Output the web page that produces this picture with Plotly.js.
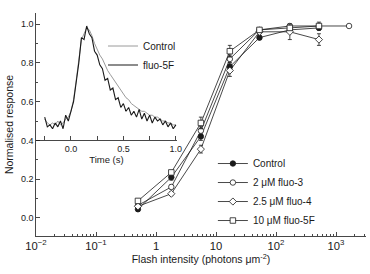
<!DOCTYPE html>
<html>
<head>
<meta charset="utf-8">
<script src="https://cdn.plot.ly/plotly-3.0.1.min.js"></script>
<style>html,body{margin:0;padding:0;background:#fff;}#chart{width:370px;height:274px;}</style>
</head>
<body>
<div id="chart"></div>
<script>
// Main panel: flash intensity (photons um^-2)
var intensity = [0.5, 1.8, 5.6, 17, 53, 170, 520, 1650];
var controlY   = [0.045, 0.21, 0.42, 0.78, 0.93, 0.97, 0.98];
var controlErr = [0.01, 0.015, 0.02, 0.02, 0.01, 0.01, 0.01];
var fluo3Y     = [0.065, 0.16, 0.45, 0.82, 0.97, 0.99, 0.99, 0.99];
var fluo3Err   = [0.01, 0.01, 0.02, 0.02, 0.01, 0.01, 0.01, 0.0];
var fluo4Y     = [0.06, 0.125, 0.355, 0.76, 0.96, 0.96, 0.92];
var fluo4Err   = [0.01, 0.01, 0.02, 0.03, 0.01, 0.04, 0.03];
var fluo5Y     = [0.088, 0.235, 0.49, 0.86, 0.97, 0.98, 0.99];
var fluo5Err   = [0.01, 0.01, 0.03, 0.03, 0.01, 0.01, 0.02];
var seriesNames = ['Control', '2 \u03bcM fluo-3', '2.5 \u03bcM fluo-4', '10 \u03bcM fluo-5F'];

// Inset: time course (s)
var timeS = [-0.250,-0.225,-0.200,-0.175,-0.150,-0.125,-0.100,-0.075,-0.050,-0.025,
  0.000,0.025,0.050,0.075,0.100,0.125,0.150,0.175,0.200,0.225,0.250,0.275,0.300,0.325,0.350,
  0.375,0.400,0.425,0.450,0.475,0.500,0.525,0.550,0.575,0.600,0.625,0.650,0.675,0.700,0.725,
  0.750,0.775,0.800,0.825,0.850,0.875,0.900,0.925,0.950,0.975,1.000];
var insetControl = [0.51,0.49,0.48,0.49,0.48,0.50,0.48,0.49,0.51,0.52,
  0.55,0.61,0.71,0.81,0.92,0.95,0.98,0.97,0.94,0.90,0.87,0.84,0.82,0.79,0.76,
  0.74,0.72,0.70,0.68,0.66,0.64,0.62,0.61,0.59,0.58,0.57,0.56,0.55,0.55,0.54,
  0.53,0.53,0.52,0.52,0.51,0.50,0.50,0.49,0.49,0.48,0.48];
var insetFluo5F = [0.52,0.47,0.48,0.46,0.49,0.47,0.50,0.46,0.53,0.50,
  0.55,0.60,0.70,0.80,0.93,0.92,0.99,0.95,0.93,0.86,0.84,0.79,0.77,0.71,0.72,
  0.66,0.67,0.61,0.62,0.57,0.59,0.55,0.57,0.53,0.55,0.52,0.56,0.51,0.54,0.50,
  0.53,0.49,0.52,0.50,0.51,0.48,0.50,0.47,0.49,0.46,0.48];
var insetNames = ['Control', 'fluo-5F'];

var ink = '#1a1a1a';
function mainTrace(name, ys, errs, symbol, fill) {
  return {
    type: 'scatter', mode: 'lines+markers', name: name, legend: 'legend',
    x: intensity.slice(0, ys.length), y: ys,
    error_y: {type: 'data', array: errs, visible: true, color: ink, thickness: 0.8, width: 2},
    line: {color: ink, width: 0.8},
    marker: {symbol: symbol, size: 5.5, color: fill, line: {color: ink, width: 0.8}},
    xaxis: 'x', yaxis: 'y'
  };
}
var data = [
  {type: 'scatter', mode: 'lines', name: insetNames[0], legend: 'legend2', x: timeS, y: insetControl,
   line: {color: '#9a9a9a', width: 1}, xaxis: 'x2', yaxis: 'y'},
  {type: 'scatter', mode: 'lines', name: insetNames[1], legend: 'legend2', x: timeS, y: insetFluo5F,
   line: {color: ink, width: 1.1}, xaxis: 'x2', yaxis: 'y'},
  mainTrace(seriesNames[0], controlY, controlErr, 'circle', ink),
  mainTrace(seriesNames[1], fluo3Y, fluo3Err, 'circle', '#ffffff'),
  mainTrace(seriesNames[2], fluo4Y, fluo4Err, 'diamond', '#ffffff'),
  mainTrace(seriesNames[3], fluo5Y, fluo5Err, 'square', '#ffffff')
];

var layout = {
  width: 370, height: 274,
  margin: {l: 36, r: 4, t: 13, b: 38},
  paper_bgcolor: '#ffffff', plot_bgcolor: 'rgba(0,0,0,0)',
  font: {family: 'Liberation Sans, Arial, sans-serif', size: 9, color: ink},
  showlegend: true,
  xaxis: {
    type: 'log', range: [-2, 3.5], dtick: 1, exponentformat: 'power',
    ticks: 'inside', ticklen: 4, tickwidth: 0.8, tickcolor: ink,
    showline: true, linecolor: ink, linewidth: 0.8, showgrid: false, zeroline: false,
    minor: {dtick: 'D1', ticks: 'inside', ticklen: 2, tickwidth: 0.8, tickcolor: ink, showgrid: false},
    title: {text: 'Flash intensity (photons \u03bcm<sup>-2</sup>)', font: {size: 10.5}, standoff: 4},
    anchor: 'y'
  },
  yaxis: {
    range: [-0.093, 1.057], dtick: 0.2, tickformat: '.1f',
    ticks: 'inside', ticklen: 4, tickwidth: 0.8, tickcolor: ink,
    showline: true, linecolor: ink, linewidth: 0.8, showgrid: false, zeroline: false,
    minor: {dtick: 0.1, ticks: 'inside', ticklen: 2, tickwidth: 0.8, tickcolor: ink, showgrid: false},
    title: {text: 'Normalised response', font: {size: 10.5}, standoff: 5},
    anchor: 'x'
  },
  xaxis2: {
    domain: [0, 0.427], range: [-0.333, 1.01], anchor: 'free', position: 0.43,
    dtick: 0.5, tickformat: '.1f',
    ticks: 'inside', ticklen: 4, tickwidth: 0.8, tickcolor: ink,
    showline: true, linecolor: ink, linewidth: 0.8, showgrid: false, zeroline: false,
    minor: {dtick: 0.25, ticks: 'inside', ticklen: 4, tickwidth: 0.8, tickcolor: ink, showgrid: false},
    title: {text: 'Time (s)', font: {size: 9.5}, standoff: 3}
  },
  legend: {x: 0.536, y: 0.39, xanchor: 'left', yanchor: 'top', bgcolor: 'rgba(0,0,0,0)',
           font: {size: 10}, tracegroupgap: 0},
  legend2: {x: 0.203, y: 0.917, xanchor: 'left', yanchor: 'top', bgcolor: 'rgba(0,0,0,0)',
            font: {size: 10}, tracegroupgap: 0}
};

Plotly.newPlot('chart', data, layout, {staticPlot: true, displayModeBar: false});
</script>
</body>
</html>
